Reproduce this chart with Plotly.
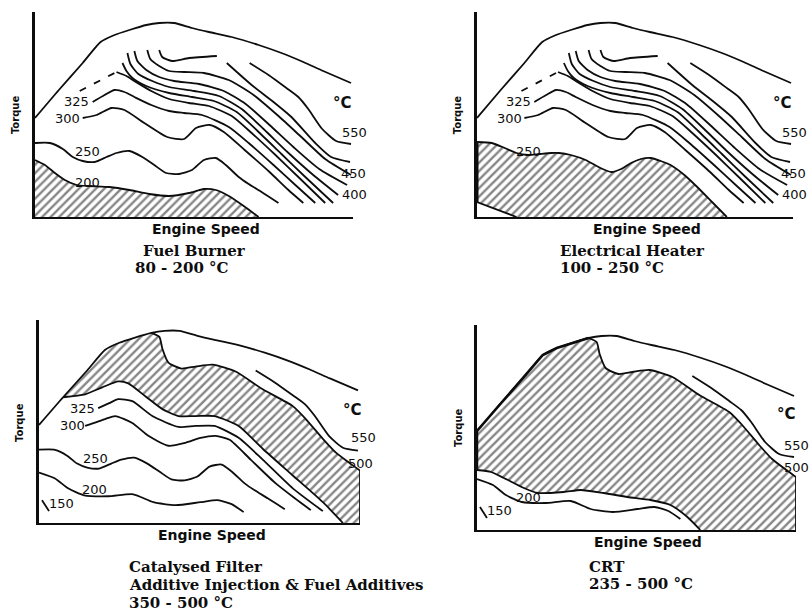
import plotly.graph_objects as go

# ---------------- data (speed / torque in schematic units) ----------------
envelope_speed = [0, 24, 48, 66, 80, 95, 112, 125, 140, 158, 175, 198, 225, 248, 270, 290, 318]
envelope_torque = [99, 127, 154, 175, 182, 187, 192, 194, 194, 189, 185, 180, 172, 164, 155, 146, 134]

# Fuel burner hatched zone (bounded by 200 C isotherm)
burner_200_speed = [0, 10, 20, 30, 42, 55, 75, 95, 115, 135, 155, 170, 182, 195, 210, 225]
burner_200_torque = [57, 52, 44, 37, 32, 31, 30, 27, 23, 21, 24, 28, 27, 21, 11, 0]

iso250_speed = [0, 15, 28, 38, 48, 60, 72, 82, 95, 108, 120, 132, 145, 158, 170, 182, 192, 205, 215, 228, 245]
iso250_torque = [74, 74, 68, 60, 56, 55, 60, 64, 66, 60, 52, 44, 43, 47, 57, 59, 52, 40, 33, 25, 14]

iso300_speed = [48, 62, 77, 90, 110, 133, 150, 162, 176, 190, 211, 236, 255, 270]
iso300_torque = [99, 102, 109, 107, 94, 80, 78, 89, 92, 85, 67, 45, 27, 14]

iso325_speed = [58, 70, 80, 90, 100, 117, 135, 150, 168, 195, 215, 240, 262, 282]
iso325_torque = [115, 122, 127, 125, 120, 112, 106, 104, 102, 90, 74, 52, 32, 14]

iso350_dash_speed = [45, 82]
iso350_dash_torque = [126, 145]
iso350_speed = [82, 92, 100, 117, 135, 155, 175, 198, 218, 242, 265, 292]
iso350_torque = [145, 141, 136, 126, 118, 114, 111, 101, 84, 62, 40, 14]

iso375_speed = [88, 92, 98, 112, 135, 158, 180, 203, 224, 248, 272, 300]
iso375_torque = [154, 146, 139, 131, 124, 120, 116, 105, 86, 63, 40, 14]

iso400_speed = [93, 96, 104, 118, 135, 160, 185, 208, 230, 254, 280, 305]
iso400_torque = [164, 153, 143, 136, 130, 126, 121, 108, 88, 65, 42, 22]

iso450_speed = [100, 103, 112, 125, 140, 165, 190, 212, 236, 260, 286, 314]
iso450_torque = [166, 156, 147, 140, 136, 133, 126, 113, 92, 70, 48, 32]

iso475_speed = [113, 116, 125, 135, 150, 170, 195, 220, 245, 268, 292, 318]
iso475_torque = [167, 158, 151, 146, 145, 144, 137, 122, 101, 80, 58, 42]

hook500_speed = [125, 128, 138, 155, 183]
hook500_torque = [167, 160, 156, 159, 161]
seg500_speed = [193, 218, 240, 258, 282, 298, 317]
seg500_torque = [154, 132, 115, 100, 74, 60, 55]

iso550_speed = [216, 235, 253, 265, 275, 289, 303, 318]
iso550_torque = [154, 142, 129, 120, 108, 88, 76, 73]

# Electrical heater hatched zone (bounded by 250 C isotherm)
heater_250_speed = [0, 15, 28, 40, 52, 63, 75, 83, 95, 110, 125, 136, 146, 156, 166, 176, 186, 196, 210, 223, 238, 253]
heater_250_torque = [75, 74, 69, 64, 62, 63, 64, 64, 62, 57, 49, 45, 48, 54, 58, 59, 56, 52, 42, 30, 15, 0]
heater_150_speed = [40, 0]
heater_150_torque = [0, 15]

# lower panels
iso500_speed = [112, 120, 123, 129, 142, 156, 173, 196, 223, 253, 266, 283, 296, 309, 320]
iso500_torque = [192, 188, 176, 162, 156, 158, 160, 153, 135, 118, 105, 85, 71, 61, 53]

cat_350_speed = [24, 46, 63, 79, 89, 106, 123, 139, 156, 175, 199, 223, 253, 283, 303]
cat_350_torque = [127, 130, 137, 143, 141, 128, 115, 108, 108, 108, 98, 75, 48, 21, 0]

cat_325_speed = [59, 70, 79, 93, 113, 139, 156, 175, 199, 223, 253, 283]
cat_325_torque = [116, 121, 125, 123, 108, 97, 98, 98, 86, 64, 35, 12]

cat_300_speed = [46, 66, 76, 93, 109, 129, 146, 161, 176, 190, 211, 236, 255, 271]
cat_300_torque = [98, 105, 108, 101, 88, 78, 81, 86, 88, 84, 64, 40, 25, 13]

iso200_speed = [0, 16, 29, 45, 69, 94, 114, 136, 161, 178, 192, 204]
iso200_torque = [51, 45, 35, 28, 27, 29, 21, 18, 21, 23, 19, 11]

iso150_speed = [3, 10]
iso150_torque = [23, 12]

crt_235_speed = [0, 14, 27, 47, 61, 87, 104, 127, 151, 174, 194, 211, 224]
crt_235_torque = [60, 58, 52, 42, 37, 38, 40, 37, 33, 30, 25, 13, 0]

# labels: (text, speed, torque)
labels_top = [("325", 42, 115), ("300", 33, 98), ("°C", 309, 114), ("550", 322, 85),
              ("450", 320, 44), ("400", 322, 23)]
labels_p1_extra = [("250", 53, 65), ("200", 53, 34)]
labels_p2_extra = [("250", 52, 65)]
labels_p3 = [("325", 43, 116), ("300", 33, 98), ("250", 56, 65), ("200", 55, 34), ("150", 22, 20),
             ("°C", 313, 114), ("550", 323, 86), ("500", 320, 60)]
labels_p4 = [("200", 52, 33), ("150", 23, 20), ("°C", 310, 116), ("550", 320, 85), ("500", 320, 63)]

axis_x_title = "Engine Speed"
axis_y_title = "Torque"

# title lines: (text, left px, centre px)
titles = {
    1: [("Fuel Burner", 141, 251), ("80 - 200 °C", 133, 268)],
    2: [("Electrical Heater", 558, 251), ("100 - 250 °C", 558, 268)],
    3: [("Catalysed Filter", 127, 567), ("Additive Injection & Fuel Additives", 127, 585), ("350 - 500 °C", 127, 603)],
    4: [("CRT", 587, 567), ("235 - 500 °C", 587, 584)],
}

# ---------------- layout geometry ----------------
W, H = 811, 613
XR, YR = 320, 205
boxes = {1: (35, 353, 12, 217), 2: (477, 793, 12, 217), 3: (39, 360, 320, 523), 4: (477, 796, 325, 530)}
INK = "#0d0d0d"
HATCH = dict(shape="/", fgcolor=INK, bgcolor="rgba(0,0,0,0)", size=6, solidity=0.4)
LW = 1.8

fig = go.Figure()


def ax(k):
    s = "" if k == 1 else str(k)
    return "x" + s, "y" + s


def to_paper(k, sx, ty):
    x0, x1, y0, y1 = boxes[k]
    px = x0 + sx / XR * (x1 - x0)
    py = y1 - ty / YR * (y1 - y0)
    return px / W, 1 - py / H


def line(k, xs, ys, width=LW, dash=None, smooth=True):
    xa, ya = ax(k)
    fig.add_trace(go.Scatter(
        x=xs, y=ys, mode="lines", xaxis=xa, yaxis=ya, hoverinfo="skip", showlegend=False,
        cliponaxis=False,
        line=dict(color=INK, width=width, dash=dash,
                  shape="spline" if smooth else "linear", smoothing=0.6)))


def zone(k, xs, ys):
    xa, ya = ax(k)
    fig.add_trace(go.Scatter(
        x=xs, y=ys, mode="lines", fill="toself", fillcolor="rgba(0,0,0,0)", fillpattern=HATCH,
        xaxis=xa, yaxis=ya, hoverinfo="skip", showlegend=False, line=dict(width=0)))


def env_part(lo, hi):
    pts = [(s, t) for s, t in zip(envelope_speed, envelope_torque) if lo <= s <= hi]
    return [p[0] for p in pts], [p[1] for p in pts]


# ---- panel 1: fuel burner ----
zone(1, burner_200_speed + [0], burner_200_torque + [0])
line(1, burner_200_speed, burner_200_torque)
# ---- panel 2: electrical heater ----
zone(2, heater_250_speed + heater_150_speed, heater_250_torque + heater_150_torque)
line(2, heater_250_speed, heater_250_torque)
line(2, heater_150_speed, heater_150_torque, smooth=False)
line(2, [0, 0], [heater_150_torque[-1], heater_250_torque[0]], width=3, smooth=False)

for k in (1, 2):
    if k == 1:
        line(k, iso250_speed, iso250_torque)
    for xs, ys in [(iso300_speed, iso300_torque), (iso325_speed, iso325_torque),
                   (iso350_speed, iso350_torque), (iso375_speed, iso375_torque),
                   (iso400_speed, iso400_torque), (iso450_speed, iso450_torque),
                   (iso475_speed, iso475_torque), (hook500_speed, hook500_torque),
                   (seg500_speed, seg500_torque), (iso550_speed, iso550_torque)]:
        line(k, xs, ys)
    line(k, iso350_dash_speed, iso350_dash_torque, dash="7px,9px", smooth=False)

# ---- panel 3: catalysed filter ----
ex, ey = env_part(24, 112)
zx = ex + iso500_speed[1:] + [iso500_speed[-1]] + cat_350_speed[::-1]
zy = ey + iso500_torque[1:] + [0] + cat_350_torque[::-1]
zone(3, zx, zy)
line(3, iso500_speed, iso500_torque)
line(3, [iso500_speed[-1]] * 2, [iso500_torque[-1], 0], smooth=False)
line(3, cat_350_speed, cat_350_torque)
line(3, cat_325_speed, cat_325_torque)
line(3, cat_300_speed, cat_300_torque)
line(3, iso250_speed, iso250_torque)
line(3, iso200_speed, iso200_torque)
line(3, iso150_speed, iso150_torque, smooth=False)
line(3, iso550_speed, iso550_torque)

# ---- panel 4: CRT ----
ex, ey = env_part(0, 112)
zx = ex + iso500_speed[1:] + [iso500_speed[-1]] + crt_235_speed[::-1]
zy = ey + iso500_torque[1:] + [0] + crt_235_torque[::-1]
zone(4, zx, zy)
line(4, iso500_speed, iso500_torque)
line(4, [iso500_speed[-1]] * 2, [iso500_torque[-1], 0], smooth=False)
line(4, crt_235_speed, crt_235_torque)
line(4, [0, 0], [crt_235_torque[0], envelope_torque[0]], width=2.5, smooth=False)
line(4, ex, ey, width=2.6, smooth=False)
line(4, iso200_speed, iso200_torque)
line(4, iso150_speed, iso150_torque, smooth=False)
line(4, iso550_speed, iso550_torque)

# envelopes
for k in (1, 2, 3, 4):
    line(k, envelope_speed, envelope_torque)

# ---------------- axes ----------------
for k, (x0, x1, y0, y1) in boxes.items():
    s = "" if k == 1 else str(k)
    fig.update_layout(**{
        "xaxis" + s: dict(domain=[x0 / W, x1 / W], range=[0, XR], anchor="y" + s,
                          showline=True, linecolor=INK, linewidth=2, showgrid=False,
                          zeroline=False, showticklabels=False, ticks="", fixedrange=True),
        "yaxis" + s: dict(domain=[1 - y1 / H, 1 - y0 / H], range=[0, YR], anchor="x" + s,
                          showline=True, linecolor=INK, linewidth=2.5, showgrid=False,
                          zeroline=False, showticklabels=False, ticks="", fixedrange=True),
    })

ann = []
LBL = dict(family="DejaVu Sans", size=13, color=INK)


def put_labels(k, items):
    for txt, sx, ty in items:
        f = dict(LBL)
        if txt == "°C":
            f["size"] = 15
            f["weight"] = "bold"
        px, py = to_paper(k, sx, ty)
        ann.append(dict(text=txt, x=px, y=py, xref="paper", yref="paper", showarrow=False, font=f,
                        xanchor="center", yanchor="middle"))


put_labels(1, labels_top + labels_p1_extra)
put_labels(2, labels_top + labels_p2_extra)
put_labels(3, labels_p3)
put_labels(4, labels_p4)

for k in (1, 2, 3, 4):
    px, py = to_paper(k, -19, 102)
    ann.append(dict(text=axis_y_title, x=px, y=py, xref="paper", yref="paper", showarrow=False,
                    textangle=-90, xanchor="center", yanchor="middle",
                    font=dict(family="DejaVu Sans", size=10, color=INK, weight="bold")))
    px, py = to_paper(k, 172, -12)
    ann.append(dict(text=axis_x_title, x=px, y=py, xref="paper", yref="paper", showarrow=False,
                    xanchor="center", yanchor="middle",
                    font=dict(family="DejaVu Sans", size=14, color=INK, weight="bold")))
    for txt, px, py in titles[k]:
        ann.append(dict(text=txt, x=px / W, y=1 - py / H, xref="paper", yref="paper",
                        xanchor="left", yanchor="middle", showarrow=False,
                        font=dict(family="DejaVu Serif", size=15, color=INK, weight="bold")))

fig.update_layout(width=W, height=H, margin=dict(l=0, r=0, t=0, b=0),
                  paper_bgcolor="white", plot_bgcolor="white", annotations=ann)

fig.write_html("out.html")
